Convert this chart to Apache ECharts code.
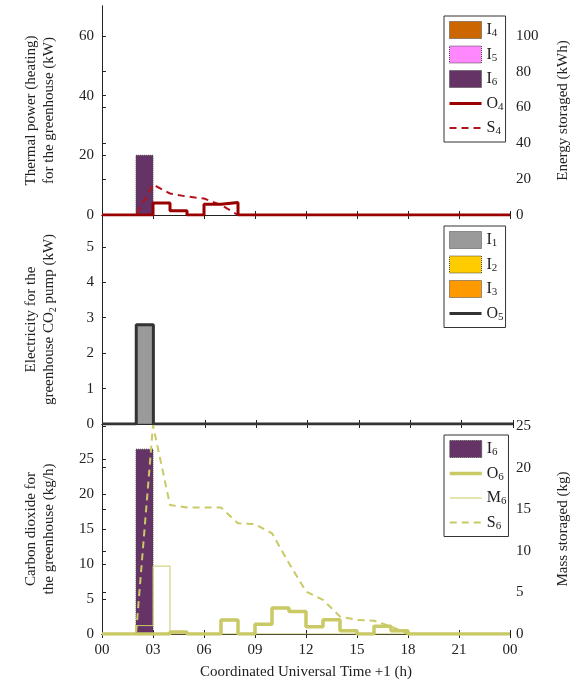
<!DOCTYPE html>
<html>
<head>
<meta charset="utf-8">
<script src="https://cdn.jsdelivr.net/npm/echarts@6/dist/echarts.min.js"></script>
<style>
  html, body { margin: 0; padding: 0; background: #fff; }
  #chart { width: 579px; height: 684px; }
</style>
</head>
<body>
<div id="chart"></div>
<script>
// hourly values, index = hour of day (value holds from h to h+1)
const hours = [0,1,2,3,4,5,6,7,8,9,10,11,12,13,14,15,16,17,18,19,20,21,22,23];

// panel 1: thermal power (kW) and energy stored (kWh)
const I4 = [0,0,0,0,0,0,0,0,0,0,0,0,0,0,0,0,0,0,0,0,0,0,0,0];
const I5 = [0,0,0,0,0,0,0,0,0,0,0,0,0,0,0,0,0,0,0,0,0,0,0,0];
const I6heat = [0,0,20,0,0,0,0,0,0,0,0,0,0,0,0,0,0,0,0,0,0,0,0,0];
const O4 = [0,0,0,4,1.4,0,3.6,4.2,0,0,0,0,0,0,0,0,0,0,0,0,0,0,0,0];
const S4 = [0,0,0,17,12,10.3,9.2,5.6,0,0,0,0,0,0,0,0,0,0,0,0,0,0,0,0,0];

// panel 2: electricity for CO2 pump (kW)
const I1 = [0,0,2.8,0,0,0,0,0,0,0,0,0,0,0,0,0,0,0,0,0,0,0,0,0];
const I2 = [0,0,0,0,0,0,0,0,0,0,0,0,0,0,0,0,0,0,0,0,0,0,0,0];
const I3 = [0,0,0,0,0,0,0,0,0,0,0,0,0,0,0,0,0,0,0,0,0,0,0,0];
const O5 = [0,0,2.8,0,0,0,0,0,0,0,0,0,0,0,0,0,0,0,0,0,0,0,0,0];

// panel 3: carbon dioxide (kg/h) and mass stored (kg)
const I6co2 = [0,0,26.4,0,0,0,0,0,0,0,0,0,0,0,0,0,0,0,0,0,0,0,0,0];
const O6 = [0,0,0,0,0.3,0,0,2.0,0,1.4,3.7,3.2,1.05,2.05,0.45,0,1.1,0.45,0,0,0,0,0,0];
const M6 = [0,0,1.2,9.7,0,0,0,0,0,0,0,0,0,0,0,0,0,0,0,0,0,0,0,0];
const S6 = [0,0,0,25.1,15.5,15.2,15.2,15.2,13.3,13.2,12.1,8.5,5.1,4.1,2.1,1.7,1.6,0.9,0,0,0,0,0,0,0];

const xTicks = ['00','03','06','09','12','15','18','21','00'];

const FONT = 'Liberation Serif';
const C = {
  I1: '#9a9a9a', I2: '#ffcc00', I3: '#ff9900',
  I4: '#cc6600', I5: '#ff88ff', I6: '#663366',
  O4: '#990000', S4: '#b3141c', O5: '#333333', CO2: '#c9c965'
};
const DASH = [7, 5];

const chart = echarts.init(document.getElementById('chart'));

function barSeries(name, vals, color, xi, yi) {
  return {
    name: name,
    type: 'custom',
    xAxisIndex: xi,
    yAxisIndex: yi,
    encode: { x: 0, y: 1 },
    data: vals.map((v, i) => [hours[i], v]),
    itemStyle: { color: color },
    renderItem: function (params, api) {
      const h = api.value(0), v = api.value(1);
      if (!v) return null;
      const p0 = api.coord([h, v]);
      const p1 = api.coord([h + 1, 0]);
      return {
        type: 'rect',
        shape: { x: p0[0], y: p0[1], width: p1[0] - p0[0], height: p1[1] - p0[1] },
        style: { fill: color, stroke: '#444', lineWidth: 1, lineDash: [1, 1] }
      };
    }
  };
}

function stepSeries(name, vals, color, width, xi, yi) {
  const d = vals.map((v, i) => [hours[i], v]);
  d.push([24, vals[vals.length - 1]]);
  return {
    name: name, type: 'line', step: 'end', symbol: 'none',
    xAxisIndex: xi, yAxisIndex: yi,
    lineStyle: { color: color, width: width }, itemStyle: { color: color },
    data: d
  };
}

function dashSeries(name, vals, color, width, xi, yi) {
  return {
    name: name, type: 'line', symbol: 'none',
    xAxisIndex: xi, yAxisIndex: yi,
    lineStyle: { color: color, width: width, type: DASH }, itemStyle: { color: color },
    data: vals.map((v, i) => [i, v])
  };
}

const textStyle = { fontFamily: FONT, fontSize: 15, color: '#222' };

function xAxisPair(gi, showLabels) {
  const base = {
    type: 'value', gridIndex: gi, min: 0, max: 24, interval: 3,
    axisLine: { lineStyle: { color: '#222', width: 1 } },
    axisTick: { inside: true, length: 4, lineStyle: { color: '#222' } },
    splitLine: { show: false }
  };
  const bottom = Object.assign({}, base, {
    position: 'bottom',
    axisLabel: showLabels ? {
      fontFamily: FONT, fontSize: 15, color: '#222', margin: 9,
      formatter: v => xTicks[v / 3]
    } : { show: false }
  });
  if (showLabels) {
    bottom.name = 'Coordinated Universal Time +1 (h)';
    bottom.nameLocation = 'middle';
    bottom.nameGap = 31;
    bottom.nameTextStyle = textStyle;
  }
  const top = Object.assign({}, base, { position: 'top', axisLabel: { show: false } });
  return [bottom, top];
}

function leftAxis(gi, max, interval, name, rich) {
  return {
    type: 'value', gridIndex: gi, position: 'left', min: 0, max: max, interval: interval,
    name: name, nameLocation: 'middle', nameRotate: 90, nameGap: 44,
    nameTextStyle: Object.assign({ lineHeight: 18 }, textStyle, rich ? { rich: rich } : {}),
    axisLine: { lineStyle: { color: '#222' } },
    axisTick: { inside: true, length: 4, lineStyle: { color: '#222' } },
    axisLabel: { fontFamily: FONT, fontSize: 15, color: '#222', margin: 8, showMaxLabel: false },
    splitLine: { show: false }
  };
}

function rightAxis(gi, max, interval, name) {
  const ax = {
    type: 'value', gridIndex: gi, position: 'right', min: 0, max: max, interval: interval,
    axisLine: { show: true, lineStyle: { color: '#222' } },
    splitLine: { show: false }
  };
  if (name) {
    ax.name = name;
    ax.nameLocation = 'middle';
    ax.nameRotate = 90;
    ax.nameGap = 46;
    ax.nameTextStyle = textStyle;
    ax.axisTick = { inside: false, length: 4, lineStyle: { color: '#222' } };
    ax.axisLabel = { fontFamily: FONT, fontSize: 15, color: '#222', margin: 6, showMaxLabel: false };
  } else {
    ax.axisTick = { show: false };
    ax.axisLabel = { show: false };
  }
  return ax;
}

const legendRich = {
  a: { fontFamily: FONT, fontSize: 16, lineHeight: 16, color: '#222' },
  s: { fontFamily: FONT, fontSize: 11, lineHeight: 11, color: '#222', padding: [7, 0, 0, 0] }
};

function legend(top, items) {
  return {
    orient: 'vertical', left: 444, top: top,
    itemWidth: 32, itemHeight: 17, itemGap: 6.5,
    padding: [5, 2, 5, 4],
    borderColor: '#333', borderWidth: 1, backgroundColor: '#fff',
    selectedMode: false,
    formatter: n => '{a|' + n[0] + '}{s|' + n.slice(1) + '}',
    textStyle: { rich: legendRich },
    data: items.map(it => it.fill ? {
      name: it.name, icon: 'rect',
      itemStyle: { color: it.fill, borderColor: '#444', borderWidth: 1, borderType: 'dotted' }
    } : {
      name: it.name,
      itemStyle: { color: 'rgba(0,0,0,0)', borderWidth: 0, opacity: 0 },
      lineStyle: { color: it.color, width: it.width, type: it.dashed ? DASH : 'solid' }
    })
  };
}

const option = {
  animation: false,
  backgroundColor: '#fff',
  textStyle: { fontFamily: FONT },
  grid: [
    { left: 102, right: 66, top: 6, height: 209 },
    { left: 102, right: 66, top: 215, height: 209 },
    { left: 102, right: 66, top: 424, height: 210 }
  ],
  xAxis: [].concat(xAxisPair(0, false), xAxisPair(1, false), xAxisPair(2, true)),
  yAxis: [
    leftAxis(0, 70, 20, 'Thermal power (heating)\nfor the greenhouse (kW)'),
    rightAxis(0, 116.67, 20, 'Energy storaged (kWh)'),
    leftAxis(1, 5.9, 1, 'Electricity for the\n{n|greenhouse CO}{s|2}{n| pump (kW)}', {
      n: { fontFamily: FONT, fontSize: 15, color: '#222' },
      s: { fontFamily: FONT, fontSize: 10, color: '#222', padding: [8, 0, 0, 0] }
    }),
    rightAxis(1, 5.9, 1, null),
    leftAxis(2, 30, 5, 'Carbon dioxide for\nthe greenhouse (kg/h)'),
    rightAxis(2, 25.24, 5, 'Mass storaged (kg)')
  ],
  legend: [
    legend(16, [
      { name: 'I4', fill: C.I4 }, { name: 'I5', fill: C.I5 }, { name: 'I6', fill: C.I6 },
      { name: 'O4', color: C.O4, width: 3 }, { name: 'S4', color: C.S4, width: 2, dashed: true }
    ]),
    legend(226, [
      { name: 'I1', fill: C.I1 }, { name: 'I2', fill: C.I2 }, { name: 'I3', fill: C.I3 },
      { name: 'O5', color: C.O5, width: 3 }
    ]),
    legend(435, [
      { name: 'I6', fill: C.I6 }, { name: 'O6', color: C.CO2, width: 3.5 },
      { name: 'M6', color: C.CO2, width: 1.2 }, { name: 'S6', color: C.CO2, width: 2, dashed: true }
    ])
  ],
  series: [
    barSeries('I4', I4, C.I4, 0, 0),
    barSeries('I5', I5, C.I5, 0, 0),
    barSeries('I6', I6heat, C.I6, 0, 0),
    dashSeries('S4', S4, C.S4, 2, 0, 1),
    stepSeries('O4', O4, C.O4, 3, 0, 0),

    barSeries('I1', I1, C.I1, 2, 2),
    barSeries('I2', I2, C.I2, 2, 2),
    barSeries('I3', I3, C.I3, 2, 2),
    stepSeries('O5', O5, C.O5, 3, 2, 2),

    barSeries('I6', I6co2, C.I6, 4, 4),
    stepSeries('M6', M6, C.CO2, 1, 4, 4),
    stepSeries('O6', O6, C.CO2, 3.5, 4, 4),
    dashSeries('S6', S6, C.CO2, 2, 4, 5)
  ]
};

chart.setOption(option);
</script>
</body>
</html>
